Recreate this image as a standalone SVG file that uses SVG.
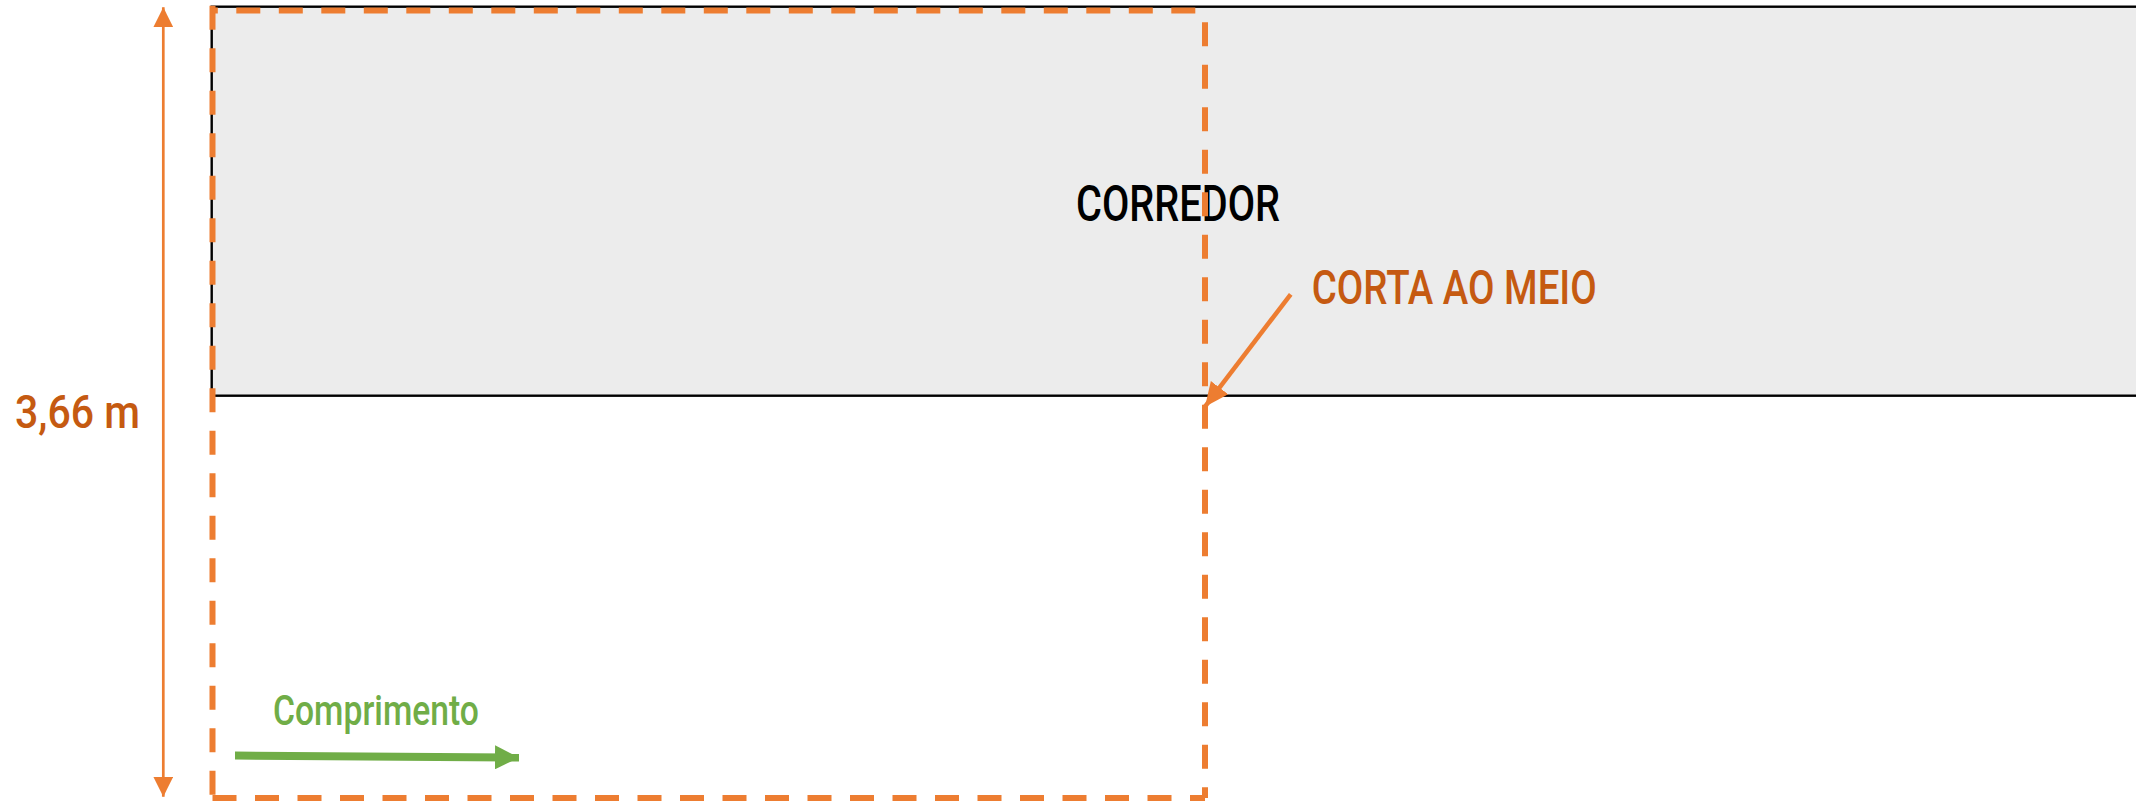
<svg xmlns="http://www.w3.org/2000/svg" width="2136" height="802" viewBox="0 0 2136 802">
<style>
.dash{fill:none;stroke:#ed7d31;stroke-width:6;stroke-dasharray:24 18.5;stroke-linecap:butt}
.lbl{font-family:Roboto,"Liberation Sans",Arial,sans-serif;font-weight:500}
.org{fill:#c55a11}
</style>
<defs>
<marker id="hOrange" markerUnits="userSpaceOnUse" markerWidth="20" markerHeight="20" viewBox="0 0 16 16" refX="16" refY="8" orient="auto">
<path d="M0,0 L16,8 L0,16 Z" fill="#ed7d31"/>
</marker>
<marker id="hPointer" markerUnits="userSpaceOnUse" markerWidth="24" markerHeight="24" viewBox="0 0 22 20" refX="22" refY="10" orient="auto">
<path d="M0,0 L22,10 L0,20 Z" fill="#ed7d31"/>
</marker>
<marker id="hGreen" markerUnits="userSpaceOnUse" markerWidth="24" markerHeight="24" viewBox="0 0 23 23" refX="23" refY="11.5" orient="auto">
<path d="M0,0 L23,11.5 L0,23 Z" fill="#70ad47"/>
</marker>
</defs>
<rect width="2136" height="802" fill="#ffffff"/>
<g id="corredor">
<rect x="211.7" y="6.7" width="1940" height="389" fill="#ececec" stroke="#000000" stroke-width="2.4"/>
<text class="lbl" x="1076" y="221" font-size="50" fill="#000000" textLength="204" lengthAdjust="spacingAndGlyphs">CORREDOR</text>
</g>
<g id="corte">
<line class="dash" x1="212.5" y1="5.75" x2="212.5" y2="798"/>
<line class="dash" x1="212.5" y1="798" x2="1205" y2="798"/>
<line class="dash" x1="1205" y1="798" x2="1205" y2="10.5" stroke-dashoffset="13.3"/>
<line class="dash" x1="212.5" y1="10.5" x2="1205" y2="10.5" stroke-dashoffset="18.7"/>
</g>
<g id="cota">
<text class="lbl org" x="15" y="428" font-size="46" textLength="125" lengthAdjust="spacingAndGlyphs">3,66 m</text>
</g>
<g id="corta-label">
<text class="lbl org" x="1311.7" y="304" font-size="47.5" textLength="285" lengthAdjust="spacingAndGlyphs">CORTA AO MEIO</text>
</g>
<g id="comprimento">
<text class="lbl" x="273" y="725" font-size="42" fill="#70ad47" textLength="206" lengthAdjust="spacingAndGlyphs">Comprimento</text>
</g>
<g id="connectors">
<line x1="163.3" y1="396" x2="163.3" y2="7.3" stroke="#ed7d31" stroke-width="2.7" marker-end="url(#hOrange)"/>
<line x1="163.3" y1="396" x2="163.3" y2="796.7" stroke="#ed7d31" stroke-width="2.7" marker-end="url(#hOrange)"/>
<line x1="1290.7" y1="294.3" x2="1205" y2="406.7" stroke="#ed7d31" stroke-width="4.5" marker-end="url(#hPointer)"/>
<line x1="235" y1="755.5" x2="519" y2="757.5" stroke="#70ad47" stroke-width="8" marker-end="url(#hGreen)"/>
</g>
</svg>
